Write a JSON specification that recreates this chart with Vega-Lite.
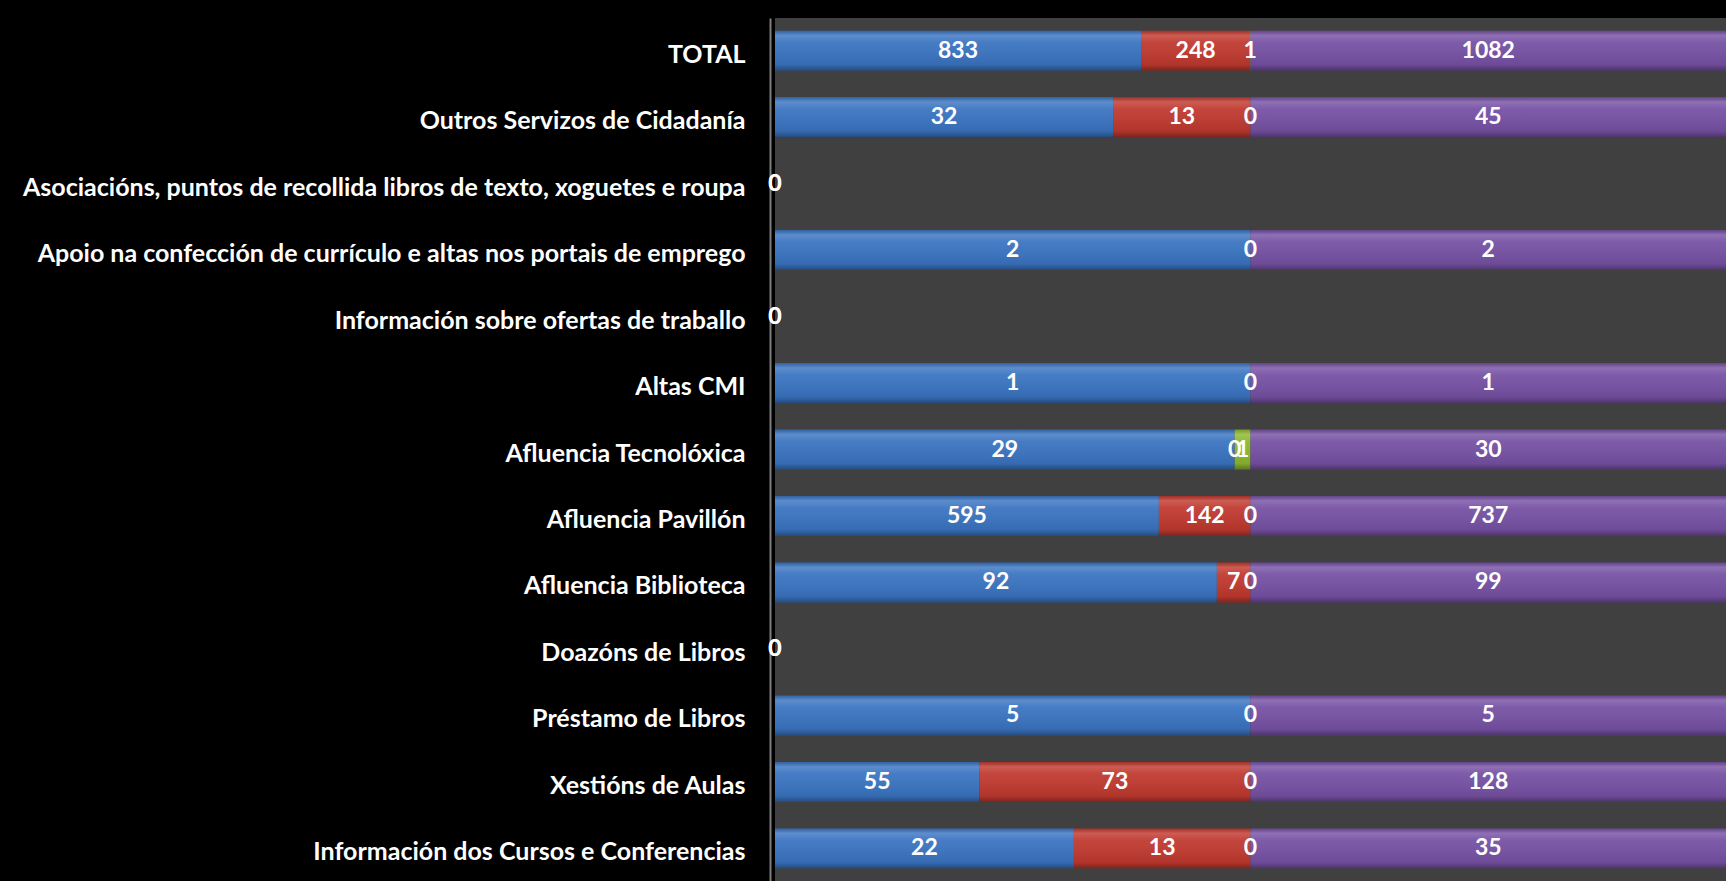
{
  "$schema": "https://vega.github.io/schema/vega-lite/v6.json",
  "autosize": "none",
  "width": 951,
  "height": 863,
  "padding": {"left": 775, "top": 18, "right": 0, "bottom": 0},
  "background": "#000000",
  "config": {
    "view": {"fill": "#404040", "stroke": null},
    "font": "Lato"
  },
  "data": {
    "values": [
      {"cat": "TOTAL", "serie": "Homes", "valor": 833},
      {"cat": "TOTAL", "serie": "Mulleres", "valor": 248},
      {"cat": "TOTAL", "serie": "Outros", "valor": 1},
      {"cat": "TOTAL", "serie": "Total", "valor": 1082},
      {"cat": "Outros Servizos de Cidadanía", "serie": "Homes", "valor": 32},
      {"cat": "Outros Servizos de Cidadanía", "serie": "Mulleres", "valor": 13},
      {"cat": "Outros Servizos de Cidadanía", "serie": "Outros", "valor": 0},
      {"cat": "Outros Servizos de Cidadanía", "serie": "Total", "valor": 45},
      {"cat": "Asociacións,  puntos de recollida libros de texto, xoguetes e roupa", "serie": "Homes", "valor": null},
      {"cat": "Asociacións,  puntos de recollida libros de texto, xoguetes e roupa", "serie": "Mulleres", "valor": null},
      {"cat": "Asociacións,  puntos de recollida libros de texto, xoguetes e roupa", "serie": "Outros", "valor": null},
      {"cat": "Asociacións,  puntos de recollida libros de texto, xoguetes e roupa", "serie": "Total", "valor": 0},
      {"cat": "Apoio na confección de currículo e altas nos portais de emprego", "serie": "Homes", "valor": 2},
      {"cat": "Apoio na confección de currículo e altas nos portais de emprego", "serie": "Mulleres", "valor": null},
      {"cat": "Apoio na confección de currículo e altas nos portais de emprego", "serie": "Outros", "valor": 0},
      {"cat": "Apoio na confección de currículo e altas nos portais de emprego", "serie": "Total", "valor": 2},
      {"cat": "Información sobre ofertas de traballo", "serie": "Homes", "valor": null},
      {"cat": "Información sobre ofertas de traballo", "serie": "Mulleres", "valor": null},
      {"cat": "Información sobre ofertas de traballo", "serie": "Outros", "valor": null},
      {"cat": "Información sobre ofertas de traballo", "serie": "Total", "valor": 0},
      {"cat": "Altas CMI", "serie": "Homes", "valor": 1},
      {"cat": "Altas CMI", "serie": "Mulleres", "valor": null},
      {"cat": "Altas CMI", "serie": "Outros", "valor": 0},
      {"cat": "Altas CMI", "serie": "Total", "valor": 1},
      {"cat": "Afluencia Tecnolóxica", "serie": "Homes", "valor": 29},
      {"cat": "Afluencia Tecnolóxica", "serie": "Mulleres", "valor": 0},
      {"cat": "Afluencia Tecnolóxica", "serie": "Outros", "valor": 1},
      {"cat": "Afluencia Tecnolóxica", "serie": "Total", "valor": 30},
      {"cat": "Afluencia Pavillón", "serie": "Homes", "valor": 595},
      {"cat": "Afluencia Pavillón", "serie": "Mulleres", "valor": 142},
      {"cat": "Afluencia Pavillón", "serie": "Outros", "valor": 0},
      {"cat": "Afluencia Pavillón", "serie": "Total", "valor": 737},
      {"cat": "Afluencia Biblioteca", "serie": "Homes", "valor": 92},
      {"cat": "Afluencia Biblioteca", "serie": "Mulleres", "valor": 7},
      {"cat": "Afluencia Biblioteca", "serie": "Outros", "valor": 0},
      {"cat": "Afluencia Biblioteca", "serie": "Total", "valor": 99},
      {"cat": "Doazóns de Libros", "serie": "Homes", "valor": null},
      {"cat": "Doazóns de Libros", "serie": "Mulleres", "valor": null},
      {"cat": "Doazóns de Libros", "serie": "Outros", "valor": null},
      {"cat": "Doazóns de Libros", "serie": "Total", "valor": 0},
      {"cat": "Préstamo de Libros", "serie": "Homes", "valor": 5},
      {"cat": "Préstamo de Libros", "serie": "Mulleres", "valor": null},
      {"cat": "Préstamo de Libros", "serie": "Outros", "valor": 0},
      {"cat": "Préstamo de Libros", "serie": "Total", "valor": 5},
      {"cat": "Xestións de Aulas", "serie": "Homes", "valor": 55},
      {"cat": "Xestións de Aulas", "serie": "Mulleres", "valor": 73},
      {"cat": "Xestións de Aulas", "serie": "Outros", "valor": 0},
      {"cat": "Xestións de Aulas", "serie": "Total", "valor": 128},
      {"cat": "Información dos Cursos e Conferencias", "serie": "Homes", "valor": 22},
      {"cat": "Información dos Cursos e Conferencias", "serie": "Mulleres", "valor": 13},
      {"cat": "Información dos Cursos e Conferencias", "serie": "Outros", "valor": 0},
      {"cat": "Información dos Cursos e Conferencias", "serie": "Total", "valor": 35}
    ]
  },
  "encoding": {
    "y": {
      "field": "cat",
      "type": "nominal",
      "sort": null,
      "scale": {"paddingInner": 0.4, "paddingOuter": 0.19},
      "axis": {
        "title": null,
        "ticks": false,
        "domain": true,
        "domainColor": "#7f7f7f",
        "domainWidth": 2,
        "offset": 5,
        "labelPadding": 25,
        "labelOffset": 4,
        "labelFont": "Lato",
        "labelFontWeight": "bold",
        "labelFontSize": 25,
        "labelColor": "#ffffff",
        "labelLimit": 800,
        "grid": false
      }
    }
  },
  "layer": [
    {
      "mark": {"type": "bar"},
      "encoding": {
        "x": {
          "field": "valor",
          "type": "quantitative",
          "stack": "normalize",
          "scale": {"domain": [0, 1], "nice": false},
          "axis": null
        },
        "color": {
          "field": "serie",
          "type": "nominal",
          "scale": {
            "domain": ["Homes", "Mulleres", "Outros", "Total"],
            "range": ["#3a74c1", "#c0392f", "#8cb82f", "#7651a4"]
          },
          "legend": null
        },
        "order": {"field": "serie", "type": "ordinal", "sort": "ascending"}
      }
    },
    {
      "mark": {
        "type": "bar",
        "color": {
          "gradient": "linear",
          "x1": 0, "y1": 0, "x2": 0, "y2": 1,
          "stops": [
            {"offset": 0, "color": "rgba(0,0,0,0.15)"},
            {"offset": 0.12, "color": "rgba(255,255,255,0.18)"},
            {"offset": 0.3, "color": "rgba(255,255,255,0.06)"},
            {"offset": 0.85, "color": "rgba(0,0,0,0.08)"},
            {"offset": 1, "color": "rgba(0,0,0,0.35)"}
          ]
        }
      },
      "encoding": {
        "x": {"field": "valor", "type": "quantitative", "stack": "normalize"},
        "detail": {"field": "serie", "type": "nominal"},
        "order": {"field": "serie", "type": "ordinal", "sort": "ascending"}
      }
    },
    {
      "transform": [{"filter": "datum.valor != null"}],
      "mark": {
        "type": "text",
        "color": "#ffffff",
        "font": "Lato",
        "fontWeight": "bold",
        "fontSize": 23,
        "align": "center",
        "baseline": "middle"
      },
      "encoding": {
        "x": {"field": "valor", "type": "quantitative", "stack": "normalize", "bandPosition": 0.5},
        "detail": {"field": "serie", "type": "nominal"},
        "order": {"field": "serie", "type": "ordinal", "sort": "ascending"},
        "text": {"field": "valor", "type": "quantitative"}
      }
    },
    {
      "transform": [{"filter": "datum.serie == 'Total' && datum.valor == 0"}],
      "mark": {
        "type": "text",
        "color": "#ffffff",
        "font": "Lato",
        "fontWeight": "bold",
        "fontSize": 23,
        "align": "center",
        "baseline": "middle"
      },
      "encoding": {
        "x": {"datum": 0, "type": "quantitative"},
        "text": {"field": "valor", "type": "quantitative"}
      }
    }
  ]
}
